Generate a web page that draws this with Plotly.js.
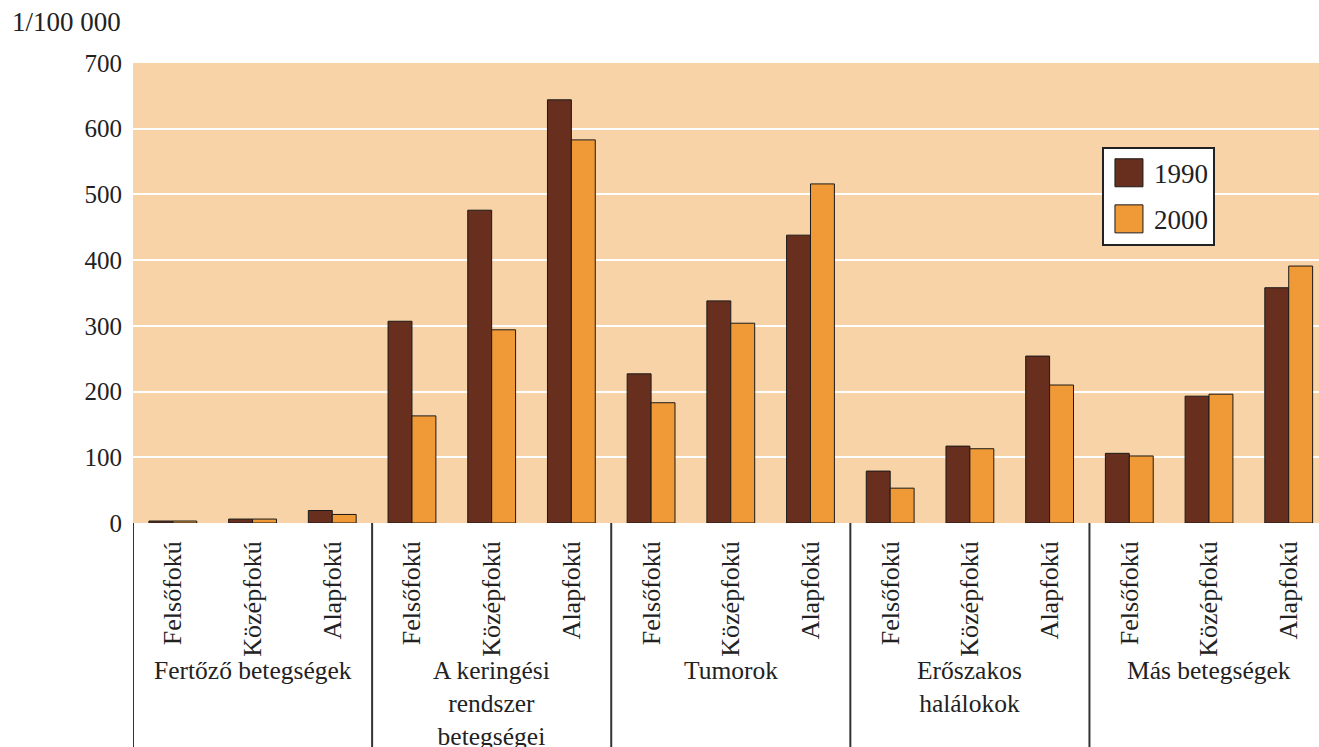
<!DOCTYPE html>
<html>
<head>
<meta charset="utf-8">
<script src="https://cdn.plot.ly/plotly-3.0.1.min.js"></script>
<style>
  html, body { margin: 0; padding: 0; background: #fff; }
  #chart { width: 1319px; height: 747px; }
</style>
</head>
<body>
<div id="chart"></div>
<script>
// ---- data ----
const groups = ["Fertőző betegségek", "A keringési<br>rendszer<br>betegségei", "Tumorok", "Erőszakos<br>halálokok", "Más betegségek"];
const levels = ["Felsőfokú", "Középfokú", "Alapfokú"];
const seriesNames = ["1990", "2000"];
const values1990 = [3, 6, 19, 307, 476, 644, 227, 338, 438, 79, 117, 254, 106, 193, 358];
const values2000 = [3, 6, 13, 163, 294, 583, 183, 304, 516, 53, 113, 210, 102, 196, 391];
const yTicks = [0, 100, 200, 300, 400, 500, 600, 700];
const yUnit = "1/100 000";

// ---- styling ----
const FONT = "Liberation Serif, Times New Roman, serif";
const TEXT = "#222222";
const colors = ["#682F1E", "#F09A37"];

// category keys (unique) and their displayed labels
const keys = [], tickLabels = [];
groups.forEach((g, gi) => levels.forEach((l, li) => {
  keys.push(gi + "|" + l);
  tickLabels.push(l);
}));

const traces = [values1990, values2000].map((vals, i) => ({
  type: "bar",
  name: seriesNames[i],
  x: keys,
  y: vals,
  legendgroup: "g" + i,
  marker: { color: colors[i], line: { color: "#1a1a1a", width: 1 } },
  hoverinfo: "y+name"
}));

const nLev = levels.length;
const annotations = groups.map((g, gi) => ({
  xref: "x", yref: "paper",
  x: keys[gi * nLev + Math.floor(nLev / 2)],
  y: 0, yanchor: "top", xanchor: "center",
  yshift: -131,
  text: g, showarrow: false, align: "center",
  font: { family: FONT, size: 25.5, color: TEXT }
}));
annotations.push({
  xref: "paper", yref: "paper", x: 0, y: 1,
  xanchor: "right", yanchor: "bottom", xshift: -10, yshift: 24,
  text: yUnit, showarrow: false,
  font: { family: FONT, size: 27, color: TEXT }
});

const shapes = [];
for (let gi = 0; gi <= groups.length; gi++) {
  const xv = gi * nLev - 0.5;
  shapes.push({
    type: "line", xref: "x", yref: "paper",
    x0: xv, x1: xv, y0: 0, y1: -0.7,
    line: { color: "#333333", width: 2 }
  });
}

const layout = {
  width: 1319, height: 747,
  margin: { l: 133, r: 0, t: 63, b: 224 },
  paper_bgcolor: "#ffffff",
  plot_bgcolor: "#F7D3A7",
  barmode: "group",
  bargap: 0.4,
  bargroupgap: 0,
  font: { family: FONT, color: TEXT, size: 25 },
  showlegend: true,
  legend: {
    x: 0.817, y: 0.818, xanchor: "left", yanchor: "top",
    bgcolor: "#ffffff", bordercolor: "#222222", borderwidth: 2,
    font: { family: FONT, size: 27, color: TEXT },
    itemwidth: 40,
    tracegroupgap: 8,
    traceorder: "grouped"
  },
  xaxis: {
    type: "category",
    range: [-0.5, 14.38],
    tickmode: "array", tickvals: keys, ticktext: tickLabels,
    tickangle: -90,
    ticks: "", ticklabelstandoff: 12,
    showgrid: false, showline: false, zeroline: false,
    tickfont: { family: FONT, size: 26, color: TEXT },
    fixedrange: true
  },
  yaxis: {
    range: [0, 700],
    tickmode: "array", tickvals: yTicks,
    showgrid: true, gridcolor: "#ffffff", gridwidth: 2,
    zeroline: false, showline: false, ticks: "",
    ticklabelstandoff: 10,
    tickfont: { family: FONT, size: 25, color: TEXT },
    fixedrange: true
  },
  annotations: annotations,
  shapes: shapes
};

Plotly.newPlot("chart", traces, layout, { displayModeBar: false, staticPlot: true }).then(gd => {
  // enlarge the legend swatches to match the reference's big squares
  gd.querySelectorAll(".legend .legendpoints path").forEach(p => {
    p.setAttribute("d", "M14,14H-14V-14H14Z");
  });
});
</script>
</body>
</html>
